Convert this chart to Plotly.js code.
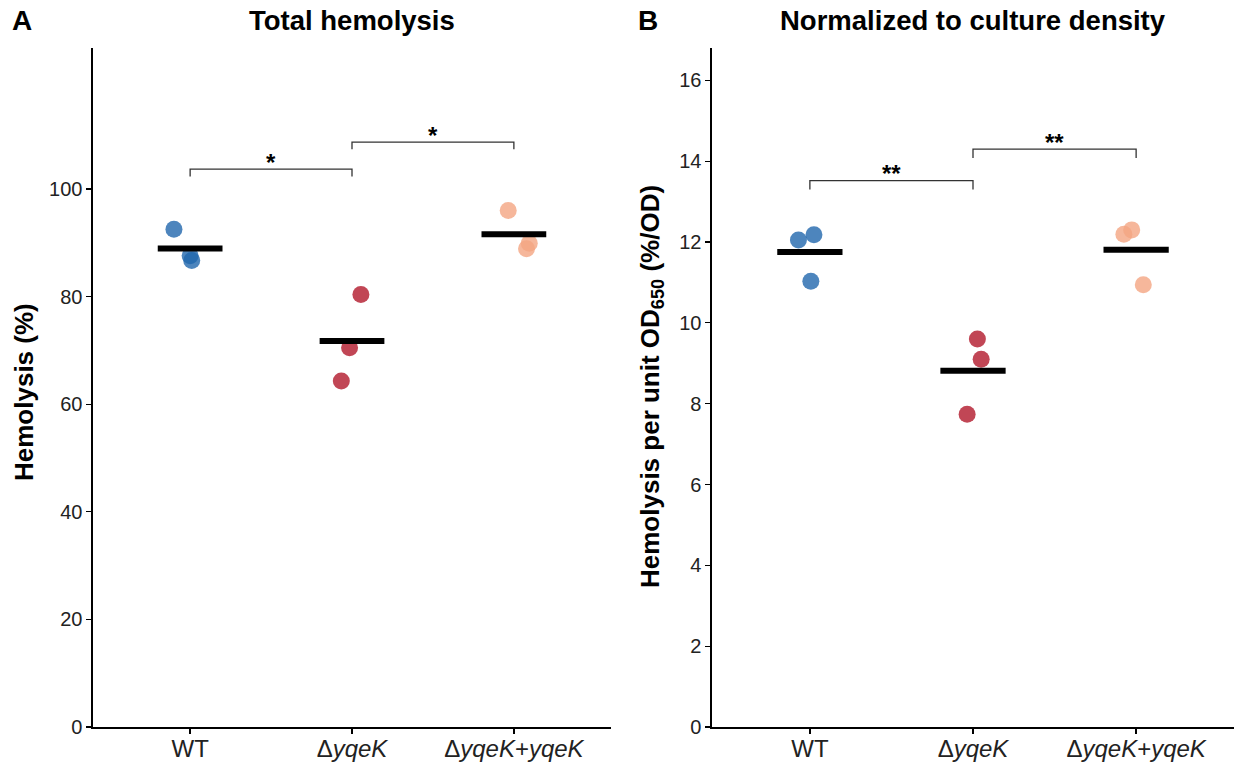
<!DOCTYPE html>
<html>
<head>
<meta charset="utf-8">
<script src="https://cdn.plot.ly/plotly-3.0.1.min.js"></script>
<style>html,body{margin:0;padding:0;background:#fff;}#chart{width:1238px;height:763px;}</style>
</head>
<body>
<div id="chart"></div>
<script>
// ---- data ----
const categories = ["WT", "ΔyqeK", "ΔyqeK+yqeK"];
const tickLabels = ["WT", "Δ<i>yqeK</i>", "Δ<i>yqeK</i>+<i>yqeK</i>"];
const colors = ["#2166AC", "#B2182B", "#F4A582"];

// Panel A: total hemolysis (%)
const totalWT = [92.5, 87.6, 86.7];
const totalDyqeK = [80.4, 70.5, 64.3];
const totalComp = [96.0, 89.9, 88.9];
const totalJitter = [[-0.10, 0.0, 0.01], [0.055, -0.015, -0.066], [-0.035, 0.095, 0.078]];

// Panel B: hemolysis per unit OD650 (%/OD)
const normWT = [12.05, 12.18, 11.03];
const normDyqeK = [9.60, 9.10, 7.74];
const normComp = [12.19, 12.30, 10.94];
const normJitter = [[-0.07, 0.025, 0.006], [0.027, 0.05, -0.036], [-0.075, -0.027, 0.044]];

// significance brackets: [from, to, bracket height, leg bottom, label]
const totalSig = [[1, 2, 103.7, 102.3, "*"], [2, 3, 108.7, 107.4, "*"]];
const normSig = [[1, 2, 13.52, 13.30, "**"], [2, 3, 14.30, 14.08, "**"]];

// ---- build ----
const traces = [];
const annotations = [];
const mean = a => a.reduce((s, v) => s + v, 0) / a.length;
const FAM = "Liberation Sans, Arial, sans-serif";

function panel(groups, jitter, sig, xa, ya) {
  groups.forEach((vals, i) => {
    traces.push({
      type: "scatter", mode: "markers", xaxis: xa, yaxis: ya,
      x: vals.map((v, j) => (i + 1) + jitter[i][j]), y: vals,
      marker: {size: 17, color: colors[i], opacity: 0.8, line: {width: 0}},
      hoverinfo: "y", showlegend: false
    });
  });
  groups.forEach((vals, i) => {
    const m = mean(vals);
    traces.push({
      type: "scatter", mode: "lines", xaxis: xa, yaxis: ya,
      x: [i + 1 - 0.2, i + 1 + 0.2], y: [m, m],
      line: {color: "#000", width: 6}, hoverinfo: "skip", showlegend: false
    });
  });
  sig.forEach(s => {
    traces.push({
      type: "scatter", mode: "lines", xaxis: xa, yaxis: ya,
      x: [s[0], s[0], s[1], s[1]], y: [s[3], s[2], s[2], s[3]],
      line: {color: "#333", width: 1.3}, hoverinfo: "skip", showlegend: false
    });
    annotations.push({
      xref: xa, yref: ya, x: (s[0] + s[1]) / 2, y: s[2], text: "<b>" + s[4] + "</b>",
      showarrow: false, yanchor: "middle", yshift: 7,
      font: {family: FAM, size: 24, color: "#000"}
    });
  });
}

panel([totalWT, totalDyqeK, totalComp], totalJitter, totalSig, "x", "y");
panel([normWT, normDyqeK, normComp], normJitter, normSig, "x2", "y2");

const W = 1238, H = 763;
const xBase = {
  range: [0.4, 3.6], tickvals: [1, 2, 3], ticktext: tickLabels,
  showline: true, linecolor: "#000", linewidth: 1.6, ticks: "outside", ticklen: 5,
  tickcolor: "#000", tickwidth: 1.3, showgrid: false, zeroline: false,
  tickfont: {family: FAM, size: 24, color: "#222"}, ticklabelstandoff: -5, fixedrange: true
};
const yBase = {
  showline: true, linecolor: "#000", linewidth: 1.6, ticks: "outside", ticklen: 5,
  tickcolor: "#000", tickwidth: 1.3, showgrid: false, zeroline: false,
  tickfont: {family: FAM, size: 20, color: "#222"}, fixedrange: true,
  domain: [36 / H, 715 / H]
};

function txt(xpx, ypx, text, size, angle) {
  return {
    xref: "paper", yref: "paper", x: xpx / W, y: 1 - ypx / H, text: text,
    showarrow: false, xanchor: "center", yanchor: "middle", textangle: angle || 0,
    font: {family: FAM, size: size, color: "#000"}
  };
}
annotations.push(txt(22, 20, "<b>A</b>", 28));
annotations.push(txt(648, 20, "<b>B</b>", 28));
annotations.push(txt(352, 20, "<b>Total hemolysis</b>", 27.5));
annotations.push(txt(973, 20, "<b>Normalized to culture density</b>", 27.5));
annotations.push(txt(24, 392, "<b>Hemolysis (%)</b>", 26, -90));
annotations.push(txt(651, 387, "<b>Hemolysis per unit OD<sub>650</sub> (%/OD)</b>", 26, -90));

const layout = {
  width: W, height: H, margin: {l: 0, r: 0, t: 0, b: 0},
  paper_bgcolor: "#fff", plot_bgcolor: "#fff", showlegend: false,
  xaxis: Object.assign({}, xBase, {domain: [93 / W, 611 / W], anchor: "y"}),
  xaxis2: Object.assign({}, xBase, {domain: [712 / W, 1234 / W], anchor: "y2"}),
  yaxis: Object.assign({}, yBase, {range: [0, 126.2], tickvals: [0, 20, 40, 60, 80, 100], anchor: "x"}),
  yaxis2: Object.assign({}, yBase, {range: [0, 16.8], tickvals: [0, 2, 4, 6, 8, 10, 12, 14, 16], anchor: "x2"}),
  annotations: annotations
};

Plotly.newPlot("chart", traces, layout, {displayModeBar: false, staticPlot: true});
</script>
</body>
</html>
